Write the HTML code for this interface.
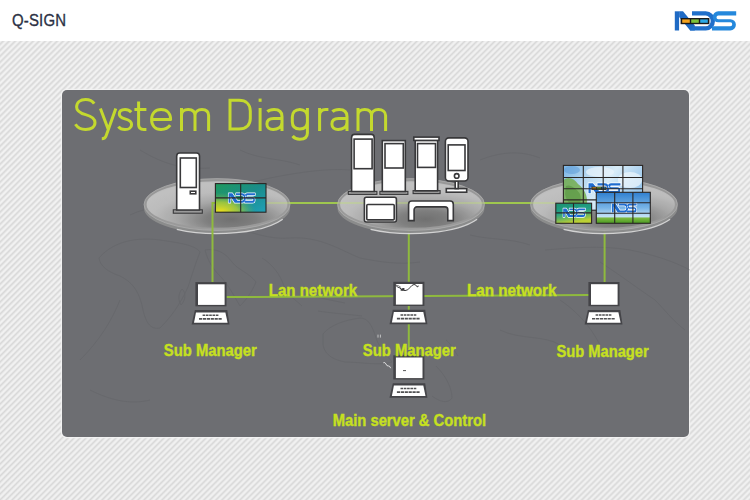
<!DOCTYPE html>
<html><head><meta charset="utf-8">
<style>
html,body{margin:0;padding:0;}
body{width:750px;height:500px;overflow:hidden;position:relative;background:#fff;font-family:"Liberation Sans",sans-serif;}
#hdr{position:absolute;left:0;top:0;width:750px;height:41px;background:#fff;}
#qs{position:absolute;left:12.2px;top:10.3px;font-size:17.4px;line-height:20px;color:#2b3144;letter-spacing:0.2px;-webkit-text-stroke:0.35px #2b3144;transform-origin:0 0;transform:scaleX(0.86);}
#bg{position:absolute;left:0;top:41px;width:750px;height:459px;
background:repeating-linear-gradient(135deg,#f2f2f2 0px,#f0f0f0 0.8px,#d8d8d8 2.3px,#f2f2f2 4.24px);}
svg{position:absolute;left:0;top:0;}
</style></head>
<body>
<div id="hdr"><div id="qs">Q-SIGN</div></div>
<div id="bg"></div>
<svg width="750" height="500" viewBox="0 0 750 500">
<defs>
  <radialGradient id="plat" cx="0.6" cy="0.8" r="0.7">
    <stop offset="0" stop-color="#6e6e6e"/>
    <stop offset="0.25" stop-color="#7e7e7e"/>
    <stop offset="0.55" stop-color="#acacac"/>
    <stop offset="0.8" stop-color="#c2c2c2"/>
    <stop offset="1" stop-color="#c6c6c6"/>
  </radialGradient>
  <linearGradient id="vw1" x1="0" y1="0" x2="1" y2="1">
    <stop offset="0" stop-color="#1f9a5c"/>
    <stop offset="0.5" stop-color="#1a8c8a"/>
    <stop offset="1" stop-color="#20a0b8"/>
  </linearGradient>
  <linearGradient id="sky" x1="0" y1="0" x2="0" y2="1">
    <stop offset="0" stop-color="#4a90d0"/>
    <stop offset="0.7" stop-color="#9cc8ea"/>
    <stop offset="1" stop-color="#5aa030"/>
  </linearGradient>
  <g id="lap">
    <rect x="0" y="0" width="31.1" height="24.2" fill="#444448"/>
    <rect x="2.6" y="2.2" width="26.6" height="20.6" fill="#fff"/>
    <polygon points="-0.5,27.9 31.9,27.9 34.1,42.4 -3.8,42.4" fill="#444448"/>
    <polygon points="0.6,30.3 30,30.3 32.2,40.7 -1.4,40.7" fill="#fff"/>
    <path d="M7.2 33.1 H23.4" stroke="#505052" stroke-width="1.5" stroke-dasharray="2.6 0.7"/>
    <path d="M3.6 36.8 H27" stroke="#505052" stroke-width="1.6" stroke-dasharray="3.2 0.7"/>
  </g>
  <g id="ndslogo">
    <path d="M0 0 H4.3 V19.2 H0 Z" fill="#1f6ac4"/>
    <path d="M4.3 0 H8.2 L20 14.2 V19.2 H15.4 L4.3 5.6 Z" fill="#1f6ac4"/>
    <path d="M17.2 0 H31 A9.2 9.6 0 0 1 31 19.2 H15 L18.4 14.9 H31 A4.9 5.3 0 0 0 31 4.3 H17.2 Z" fill="#1f6fca"/>
    <path d="M61.4 0 H43.5 A5.6 5.5 0 0 0 43.5 11 H55.5 A1.95 1.95 0 0 1 55.5 14.9 H37.2 V19.2 H55.5 A5.6 5.65 0 0 0 55.5 7.9 H43.5 A1.8 1.8 0 0 1 43.5 4.3 H61.4 Z" fill="#2488dc"/>
    <rect x="5.8" y="6.7" width="28.8" height="6.2" fill="#1a1a1a"/>
    <rect x="7.4" y="8.1" width="7.6" height="3.4" fill="#f5a31e"/>
    <rect x="16.4" y="8.1" width="7.6" height="3.4" fill="#7cc23a"/>
    <rect x="25.4" y="8.1" width="7.6" height="3.4" fill="#2aa8e6"/>
  </g>
  <g id="ndsw">
    <g stroke="#fff" stroke-width="3" stroke-linejoin="round">
    <path d="M0 0 H4.3 V19.2 H0 Z M4.3 0 H8.6 L20 14.6 V19.2 H14.2 L4.3 6.2 Z M17.2 0 H31 A9.2 9.6 0 0 1 31 19.2 H15 L18.4 14.9 H31 A4.9 5.3 0 0 0 31 4.3 H17.2 Z M61.4 0 H43.5 A5.6 5.5 0 0 0 43.5 11 H55.5 A1.95 1.95 0 0 1 55.5 14.9 H37.2 V19.2 H55.5 A5.6 5.65 0 0 0 55.5 7.9 H43.5 A1.8 1.8 0 0 1 43.5 4.3 H61.4 Z" fill="#fff"/>
    </g>
    <path d="M0 0 H4.3 V19.2 H0 Z M4.3 0 H8.6 L20 14.6 V19.2 H14.2 L4.3 6.2 Z M17.2 0 H31 A9.2 9.6 0 0 1 31 19.2 H15 L18.4 14.9 H31 A4.9 5.3 0 0 0 31 4.3 H17.2 Z M61.4 0 H43.5 A5.6 5.5 0 0 0 43.5 11 H55.5 A1.95 1.95 0 0 1 55.5 14.9 H37.2 V19.2 H55.5 A5.6 5.65 0 0 0 55.5 7.9 H43.5 A1.8 1.8 0 0 1 43.5 4.3 H61.4 Z" fill="#1e6cd0"/>
  </g>
  <radialGradient id="yel" cx="0.1" cy="1" r="0.7">
    <stop offset="0" stop-color="#f2e21a"/>
    <stop offset="0.5" stop-color="#b8d030" stop-opacity="0.8"/>
    <stop offset="1" stop-color="#60b050" stop-opacity="0"/>
  </radialGradient>
  <linearGradient id="grass" x1="0" y1="0" x2="0" y2="1">
    <stop offset="0" stop-color="#2f7fd0"/>
    <stop offset="0.5" stop-color="#78b4e6"/>
    <stop offset="0.78" stop-color="#c4e2f6"/>
    <stop offset="0.84" stop-color="#7ab840"/>
    <stop offset="1" stop-color="#4a9a22"/>
  </linearGradient>
  <linearGradient id="vw2" x1="0" y1="0" x2="0.3" y2="1">
    <stop offset="0" stop-color="#1a9270"/>
    <stop offset="0.5" stop-color="#23a088"/>
    <stop offset="0.72" stop-color="#5cb064"/>
    <stop offset="1" stop-color="#bcd034"/>
  </linearGradient>
  <linearGradient id="clouds" x1="0" y1="0" x2="1" y2="0.4">
    <stop offset="0" stop-color="#7ab4e4"/>
    <stop offset="0.35" stop-color="#b8d8f0"/>
    <stop offset="0.6" stop-color="#d8ecf8"/>
    <stop offset="1" stop-color="#9cc8ec"/>
  </linearGradient>
  <radialGradient id="tree" cx="0.5" cy="0.6" r="0.5">
    <stop offset="0" stop-color="#3a8a28"/>
    <stop offset="0.7" stop-color="#6aa848"/>
    <stop offset="1" stop-color="#8ab870" stop-opacity="0"/>
  </radialGradient>
</defs>
<use href="#ndslogo" x="674.8" y="11.3"/>
<!-- panel -->
<rect x="60.8" y="88.8" width="629.4" height="349.4" rx="6" fill="#f3f3f3" opacity="0.85"/>
<rect x="62" y="90" width="627" height="347" rx="5" fill="#6d6e72"/>

<!-- map -->
<g stroke="#5e5f63" stroke-width="0.8" fill="none" opacity="0.45" stroke-linejoin="round">
  <path d="M99 258 C110 245 130 236 160 240 C180 243 195 245 200 252 C196 262 192 275 188 287 C180 305 170 318 160 328 C150 330 145 322 142 305 C138 290 132 282 120 276 C108 272 100 266 99 258 Z"/>
  <path d="M182 289 C186 292 186 300 181 305 C178 300 178 294 182 289 Z"/>
  <path d="M205 250 C215 248 225 252 232 262 C238 270 248 272 256 282 C252 292 246 300 240 306 C234 296 228 284 220 276 C214 270 208 262 205 250"/>
  <path d="M262 258 C272 264 280 274 284 286 C288 296 296 300 302 306"/>
  <path d="M305 294 C315 297 330 300 345 303 M318 311 C330 313 345 314 362 316"/>
  <path d="M323 334 C330 325 345 320 360 318 C368 318 372 325 376 338 C380 350 388 356 392 362 C380 366 360 362 345 362 C335 360 325 356 323 345 Z"/>
  <path d="M436 366 C446 376 452 388 452 398 C448 404 440 402 432 396 M446 340 C452 345 455 352 458 356"/>
  <path d="M130 215 C150 205 170 208 190 200 C215 190 240 185 270 178 C300 172 330 168 350 170"/>
  <path d="M140 150 C160 162 180 170 210 168 M240 150 C260 160 280 158 300 165"/>
  <path d="M230 226 C250 232 270 240 290 238 C320 236 340 250 360 258 C380 262 400 265 420 262"/>
  <path d="M470 235 C490 240 510 238 530 245 M480 160 C500 152 520 150 540 158"/>
  <path d="M545 250 C570 248 600 245 630 250 C655 255 675 262 690 270 M600 262 C620 275 640 290 655 300 C665 310 672 320 685 330"/>
  <path d="M560 300 C575 310 590 325 600 345 M500 330 C520 340 545 335 560 345"/>
  <path d="M120 300 C112 320 100 340 80 360 M90 390 C110 400 130 405 150 400"/>
</g>
<!-- title -->
<g fill="none" stroke="#c4d92e" stroke-width="3" stroke-linecap="butt" stroke-linejoin="round">
  <path d="M94.2 103.6 C92.4 100.9 89.4 99.5 85.6 99.5 C80.2 99.5 76.6 102.6 76.6 107 C76.6 111.6 80.2 113.2 85.6 114.6 C91.2 116.1 95 118.1 95 122.6 C95 127 91.2 129.5 85.6 129.5 C81.2 129.5 77.6 127.7 75.4 124.3"/>
  <path d="M100.4 108.4 L108.3 129.6 M115.8 108.4 L106.2 135.6 Q105.2 138.8 101.8 138.8"/>
  <path d="M131.2 112.2 C129.6 110.4 127.6 109.5 125 109.5 C121.5 109.5 119.3 111.3 119.3 114.1 C119.3 117.1 122 118.1 125 118.9 C128.6 119.8 131.6 121.1 131.6 124.4 C131.6 127.6 128.9 129.5 125 129.5 C122 129.5 119.8 128.5 118.4 126.6"/>
  <path d="M138.6 101.6 V124.6 C138.6 128.1 140.1 129.5 143.6 129.5 H146.4 M134.4 109.5 H146.4"/>
  <path d="M151.6 119.4 H170.6 C170.6 113.4 167 109.5 161.1 109.5 C155.2 109.5 151.6 113.4 151.6 119.5 C151.6 125.6 155.2 129.5 161.1 129.5 C165 129.5 168.1 128.1 170.2 125.2"/>
  <path d="M181.5 131 V108 M181.5 115.2 C181.5 111.6 184.2 109.5 188.2 109.5 C192.3 109.5 195 111.6 195 115.6 V131 M195 115.6 C195 111.6 197.9 109.5 201.9 109.5 C206 109.5 208.6 111.6 208.6 115.6 V131"/>
  <path d="M230 98.8 V130.5 M228.5 100.3 H239 C246 100.3 250.3 104.5 250.3 111 V118.5 C250.3 125 246 129 239 129 H228.5"/>
  <path d="M260.1 108 V131"/>
  <path d="M267.4 111.6 C268.9 110.1 271.3 109.5 274.1 109.5 C279.6 109.5 282 112.1 282 116.6 V131 M282 118.5 H273.6 C269.1 118.5 266.9 120.5 266.9 124 C266.9 127.5 269.5 129.5 273.1 129.5 C277.6 129.5 282 127.1 282 122.6"/>
  <path d="M307.4 117 C307.4 112.5 304.5 109.5 299.8 109.5 C295 109.5 292.3 112.5 292.3 117 V121.8 C292.3 126.4 295 129 299.8 129 C304.5 129 307.4 126.4 307.4 121.8 M307.4 108 V133 C307.4 137.4 304.5 139.2 299.8 139.2 C296.6 139.2 294.2 138.1 292.6 136"/>
  <path d="M319.6 108 V131 M319.6 115.6 C319.6 111.6 322.1 109.5 325.6 109.5 H328.4"/>
  <path d="M332.4 111.6 C333.9 110.1 336.3 109.5 339.1 109.5 C344.6 109.5 347 112.1 347 116.6 V131 M347 118.5 H338.6 C334.1 118.5 331.9 120.5 331.9 124 C331.9 127.5 334.5 129.5 338.1 129.5 C342.6 129.5 347 127.1 347 122.6"/>
  <path d="M358 131 V108 M358 115.2 C358 111.6 360.7 109.5 364.7 109.5 C368.8 109.5 371.5 111.6 371.5 115.6 V131 M371.5 115.6 C371.5 111.6 374.4 109.5 378.4 109.5 C382.5 109.5 385.6 111.6 385.6 115.6 V131"/>
</g>
<rect x="258.6" y="98.6" width="3" height="3.2" fill="#c4d92e"/>

<!-- green lines -->
<g stroke="#8fba3e" stroke-width="2" fill="none">
  <path d="M266 203 H604"/>
  <path d="M408.8 203 V348"/>
  <path d="M604.6 223 V282"/>
  <path d="M226.5 297.1 L589 295.1"/>
</g>
<!-- platforms -->
<g id="plats">
<ellipse cx="217" cy="208" rx="73" ry="25.6" fill="#8e8e8e" opacity="0.92"/>
<path d="M176.8 229.4 A73 25.6 0 0 0 282.7 219.2" stroke="#dcdcdc" stroke-width="1.3" fill="none" opacity="0.9"/>
<ellipse cx="217" cy="204.5" rx="71.7" ry="24.6" fill="url(#plat)" opacity="0.9" stroke="#9c9c9c" stroke-width="2.6"/>
<ellipse cx="217" cy="204.5" rx="73" ry="25.9" fill="none" stroke="#b4b4b4" stroke-width="0.8" opacity="0.8"/>
<ellipse cx="411" cy="208" rx="73.5" ry="25.6" fill="#8e8e8e" opacity="0.92"/>
<path d="M370.6 229.4 A73.5 25.6 0 0 0 477.1 219.2" stroke="#dcdcdc" stroke-width="1.3" fill="none" opacity="0.9"/>
<ellipse cx="411" cy="204.5" rx="72.2" ry="24.6" fill="url(#plat)" opacity="0.9" stroke="#9c9c9c" stroke-width="2.6"/>
<ellipse cx="411" cy="204.5" rx="73.5" ry="25.9" fill="none" stroke="#b4b4b4" stroke-width="0.8" opacity="0.8"/>
<ellipse cx="604" cy="208" rx="73.5" ry="25.6" fill="#8e8e8e" opacity="0.92"/>
<path d="M563.6 229.4 A73.5 25.6 0 0 0 670.1 219.2" stroke="#dcdcdc" stroke-width="1.3" fill="none" opacity="0.9"/>
<ellipse cx="604" cy="204.5" rx="72.2" ry="24.6" fill="url(#plat)" opacity="0.9" stroke="#9c9c9c" stroke-width="2.6"/>
<ellipse cx="604" cy="204.5" rx="73.5" ry="25.9" fill="none" stroke="#b4b4b4" stroke-width="0.8" opacity="0.8"/>
</g>

<path d="M266 203 H555 M486 203 H530" stroke="#c0e070" stroke-width="1.6" opacity="0.45" fill="none"/>
<path d="M215.4 203 H212.5 V282" stroke="#8fba3e" stroke-width="2" fill="none"/>
<!-- left platform objects -->
<g stroke="#38383a" stroke-width="1.6">
  <rect x="173.3" y="209.8" width="29" height="3.4" fill="#9a9a9a" stroke-width="1.1"/>
  <path d="M176.7 210 V156 a3 3 0 0 1 3 -3 H196.5 a3 3 0 0 1 3 3 V210 Z" fill="#fff"/>
  <rect x="180.3" y="158" width="16" height="29.5" fill="#fff"/>
  <rect x="190.3" y="191.2" width="5.5" height="2.6" fill="#fff"/>
</g>

<!-- center platform objects -->
<g stroke="#38383a" stroke-width="1.6">
  <rect x="348.3" y="191.4" width="28.6" height="3" fill="#9a9a9a" stroke-width="1.1"/>
  <path d="M351.6 191.5 V137.4 a3 3 0 0 1 3 -3 H371.2 a3 3 0 0 1 3 3 V191.5 Z" fill="#fff"/>
  <rect x="354.1" y="139.1" width="18" height="29.6" fill="#fff"/>
  <rect x="379.9" y="191.4" width="28" height="3" fill="#9a9a9a" stroke-width="1.1"/>
  <rect x="382.3" y="140.6" width="23" height="50.9" fill="#fff"/>
  <rect x="385" y="143.6" width="18.3" height="24.4" fill="#fff"/>
  <rect x="413.1" y="190.6" width="27" height="3" fill="#9a9a9a" stroke-width="1.1"/>
  <rect x="415.2" y="140.4" width="22.4" height="50.4" fill="#fff"/>
  <rect x="413.8" y="137.1" width="25.2" height="3.3" fill="#fff"/>
  <rect x="417.5" y="143.6" width="18" height="23.8" fill="#fff"/>
  <rect x="446.3" y="188.6" width="20.4" height="3.6" fill="#fff"/>
  <rect x="455.2" y="181" width="3" height="7.6" fill="#fff"/>
  <rect x="445.4" y="137.9" width="22.6" height="43.1" rx="3.5" fill="#fff"/>
  <rect x="448.2" y="144.9" width="16.8" height="25.6" fill="#fff"/>
  <circle cx="456.7" cy="175.9" r="2.3" fill="#fff"/>
  <rect x="364.4" y="197.3" width="32" height="24.7" rx="2" fill="#fff"/>
  <rect x="366.8" y="204.5" width="27.4" height="15.4" rx="1" fill="#fff"/>
  <path d="M408.6 220.6 V204.2 a3.2 3.2 0 0 1 3.2 -3.2 H450.1 a3.2 3.2 0 0 1 3.2 3.2 V220.6 H447.8 V209.7 a2.8 2.8 0 0 0 -2.8 -2.8 H416.9 a2.8 2.8 0 0 0 -2.8 2.8 V220.6 Z" fill="#fff"/>
</g>

<!-- video walls -->
<g>
  <rect x="215.4" y="183.6" width="50.6" height="28.6" fill="url(#vw1)"/>
  <rect x="215.4" y="183.6" width="50.6" height="28.6" fill="url(#yel)"/>
  <use href="#ndsw" transform="translate(228.6 193.2) scale(0.43 0.5)"/>
</g>
<g stroke="#2a2624" stroke-width="1.1" fill="none">
  <rect x="215.4" y="183.6" width="50.6" height="28.6"/>
  <path d="M240.7 183.6 V212.2 M215.4 197.9 H266"/>
</g>
<g>
  <rect x="563.4" y="165.4" width="79.2" height="44.8" fill="url(#clouds)"/>
  <ellipse cx="600" cy="172" rx="14" ry="5" fill="#eaf4fb" opacity="0.7"/>
  <ellipse cx="630" cy="180" rx="12" ry="8" fill="#f0f8fc" opacity="0.7"/>
  <ellipse cx="572" cy="170" rx="8" ry="4" fill="#5a9ad8" opacity="0.5"/>
  <path d="M563.4 180 C568 176 574 178 578 184 C584 188 588 196 587 204 C586 208 584 210 582 210.2 H563.4 Z" fill="#74ad4e" opacity="0.85"/>
  <path d="M566 186 C570 184 576 188 580 194 C582 200 580 206 576 208 C570 206 566 200 565 194 Z" fill="#4a8a30" opacity="0.45"/>
  <use href="#ndsw" transform="translate(588.5 183.2) scale(0.52 0.52)"/>
  <rect x="591.5" y="186.7" width="15" height="3.2" fill="#1a1a1a"/>
  <rect x="592.3" y="187.4" width="4" height="1.8" fill="#f5a31e"/>
  <rect x="597" y="187.4" width="4" height="1.8" fill="#7cc23a"/>
  <rect x="601.7" y="187.4" width="4" height="1.8" fill="#2aa8e6"/>
</g>
<g stroke="#2a2624" stroke-width="1.1" fill="none">
  <rect x="563.4" y="165.4" width="79.2" height="44.8"/>
  <path d="M583.3 165.4 V210.2 M603.2 165.4 V210.2 M622.9 165.4 V210.2 M563.4 177.5 H642.6 M563.4 188.7 H642.6 M563.4 199.9 H642.6"/>
</g>
<g>
  <rect x="555.8" y="203.2" width="35.8" height="20.1" fill="url(#vw2)"/>
  <use href="#ndsw" transform="translate(563.2 208.4) scale(0.36 0.45)"/>
</g>
<g stroke="#2a2624" stroke-width="1.1" fill="none">
  <rect x="555.8" y="203.2" width="35.8" height="20.1"/>
  <path d="M573.5 203.2 V223.3 M555.8 212.9 H591.6"/>
</g>
<g>
  <rect x="596.3" y="192.3" width="54" height="31" fill="url(#grass)"/>
  <use href="#ndsw" transform="translate(612 203.4) scale(0.4 0.48)"/>
</g>
<g stroke="#2a2624" stroke-width="1.1" fill="none">
  <rect x="596.3" y="192.3" width="54" height="31"/>
  <path d="M614.7 192.3 V223.3 M632.9 192.3 V223.3 M596.3 202.7 H650.3 M596.3 213.2 H650.3"/>
</g>

<!-- laptops -->
<g id="laptops">
  <use href="#lap" x="195.4" y="282.1"/>
  <use href="#lap" x="393.3" y="281.8"/>
  <use href="#lap" x="588.4" y="282"/>
  <path d="M395.2 284.6 Q397 287.5 400 288 Q401.5 290.5 405 290.6 Q408 290.5 410 287.5 Q412 284.8 414 284.5 Q416 284.3 416.8 286.6 Q418.5 287.5 418.2 285.6" stroke="#3a3a3c" stroke-width="1" fill="none"/>
  <path d="M396 285 Q399 285.5 401 287.5" stroke="#555" stroke-width="0.7" fill="none"/>
  <ellipse cx="402.6" cy="289.4" rx="2.2" ry="1.1" fill="#3a3a3c" transform="rotate(-20 402.6 289.4)"/>
  <use href="#lap" x="393.3" y="355.3"/>
  <path d="M403 370.6 H406" stroke="#444" stroke-width="0.9"/>
</g>

<path d="M378 334.6 V337.6 M380.4 334.6 V337.6" stroke="#d8d8d8" stroke-width="0.8" fill="none"/>
<path d="M383.3 362.8 Q385.2 361.8 386 364 Q386.6 366.2 388.6 366 Q390.2 366 390.6 368.2" stroke="#e8e8e8" stroke-width="0.9" fill="none"/>
<!-- labels -->
<g font-family="Liberation Sans" font-weight="bold" fill="#c6e020" stroke="#c6e020" stroke-width="0.4">
  <text x="163.8" y="356.3" font-size="16.6" textLength="93" lengthAdjust="spacingAndGlyphs">Sub Manager</text>
  <text x="362.8" y="356" font-size="16.6" textLength="93" lengthAdjust="spacingAndGlyphs">Sub Manager</text>
  <text x="556.4" y="356.6" font-size="16.6" textLength="92.3" lengthAdjust="spacingAndGlyphs">Sub Manager</text>
  <text x="268.8" y="295.9" font-size="16" textLength="88.4" lengthAdjust="spacingAndGlyphs">Lan network</text>
  <text x="466.9" y="295.6" font-size="16" textLength="89.6" lengthAdjust="spacingAndGlyphs">Lan network</text>
  <text x="332.8" y="425.7" font-size="16.4" textLength="153.2" lengthAdjust="spacingAndGlyphs">Main server &amp; Control</text>
</g>
</svg>
</body></html>
